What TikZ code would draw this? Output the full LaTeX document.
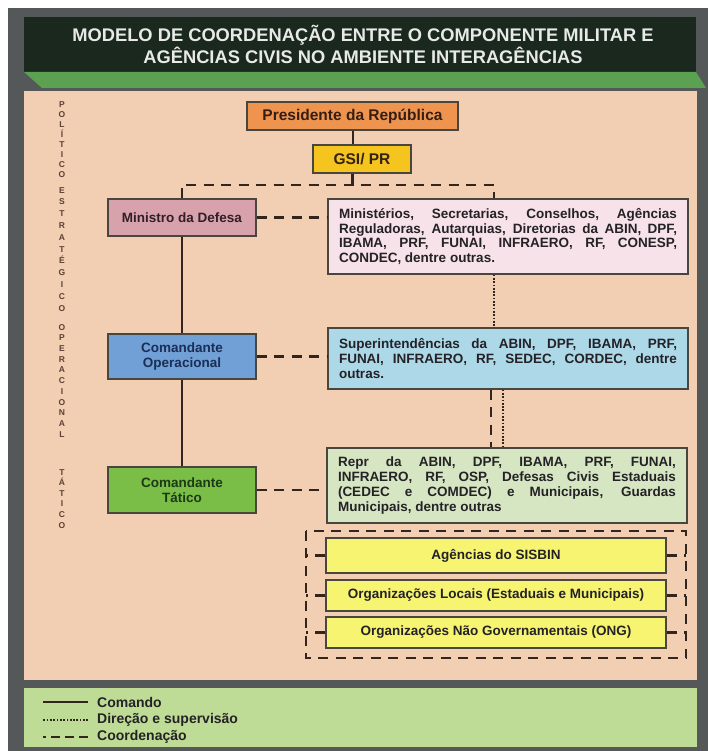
\documentclass[tikz,border=0pt]{standalone}
\usepackage{fontspec}
\setmainfont{Liberation Sans}
\usetikzlibrary{positioning}
\definecolor{framegray}{RGB}{84,88,88}
\definecolor{headdark}{RGB}{26,40,30}
\definecolor{headgreen}{RGB}{92,160,82}
\definecolor{titlegray}{RGB}{232,234,232}
\definecolor{panelpeach}{RGB}{242,206,178}
\definecolor{legendgreen}{RGB}{190,220,150}
\definecolor{presorange}{RGB}{238,148,78}
\definecolor{gsiyellow}{RGB}{245,196,30}
\definecolor{mdpink}{RGB}{216,162,172}
\definecolor{mdlight}{RGB}{246,226,232}
\definecolor{opblue}{RGB}{112,160,214}
\definecolor{oplight}{RGB}{172,216,232}
\definecolor{tatgreen}{RGB}{122,190,72}
\definecolor{tatlight}{RGB}{214,230,194}
\definecolor{sisyellow}{RGB}{246,244,112}
\definecolor{linebrown}{RGB}{52,36,30}
\definecolor{edgegray}{RGB}{72,70,62}
\definecolor{textdark}{RGB}{36,34,38}
\definecolor{vtext}{RGB}{92,64,52}

\tikzset{
  box/.style={draw=edgegray, line width=1.2pt, inner sep=0pt, align=center,
    text=textdark, font=\fontsize{13.5}{15.5}\selectfont\bfseries},
  txtbox/.style={draw=edgegray, line width=1.2pt, inner xsep=11pt, inner ysep=0pt,
    text width=338pt, align=justify, text=textdark,
    font=\fontsize{13.5}{14.7}\selectfont\bfseries},
  cmdline/.style={line width=2pt, linebrown},
  dirline/.style={line width=1.7pt, linebrown, dash pattern=on 1.7pt off 1.6pt},
  coordline/.style={line width=2.2pt, linebrown, dash pattern=on 10pt off 7.5pt},
  legtext/.style={anchor=west, inner sep=0pt, text=textdark,
    font=\fontsize{14}{16}\selectfont\bfseries},
}

\begin{document}
\begin{tikzpicture}[x=1pt, y=-1pt]
  \useasboundingbox (0,0) rectangle (708,751);

  %% Frame and panels
  \fill[framegray] (8,8) rectangle (708,751);
  \fill[headdark] (24,17) rectangle (696,72);
  \fill[headgreen] (24,72) -- (696,72) -- (706,88) -- (42,88) -- cycle;
  \fill[panelpeach] (24,91) rectangle (697,680);
  \fill[legendgreen] (24,688) rectangle (697,747);

  %% Title
  \node[font=\fontsize{18.3}{22}\selectfont\bfseries, text=titlegray, align=center]
    (title) at (363,44) {MODELO DE COORDENAÇÃO ENTRE O COMPONENTE MILITAR E\\
    AGÊNCIAS CIVIS NO AMBIENTE INTERAGÊNCIAS};

  %% Level labels
  \foreach \name/\ytop/\pitch/\word in {
      polit/101/10/{P\\O\\L\\Í\\T\\I\\C\\O},
      estrat/187/11.8/{E\\S\\T\\R\\A\\T\\É\\G\\I\\C\\O},
      operac/324/10.7/{O\\P\\E\\R\\A\\C\\I\\O\\N\\A\\L},
      tatic/469/10.6/{T\\Á\\T\\I\\C\\O}} {
    \node[anchor=north, align=center, inner sep=0pt, text=vtext,
      font=\fontsize{8.5}{\pitch}\selectfont\bfseries] (\name) at (62,\ytop) {\word};
  }

  %% Command chain
  \node[box, fill=presorange, minimum width=211, minimum height=28,
    font=\fontsize{15.5}{17}\selectfont\bfseries, text={rgb,255:red,52;green,30;blue,20}]
    (pres) at (352.5,116) {Presidente da República};
  \node[box, fill=gsiyellow, minimum width=98, minimum height=28,
    font=\fontsize{15.5}{17}\selectfont\bfseries, text={rgb,255:red,52;green,34;blue,20}]
    (gsi) at (362,159) {GSI/ PR};
  \node[box, fill=mdpink, minimum width=148, minimum height=37,
    text={rgb,255:red,48;green,30;blue,40}] (mind) at (182,217.5) {Ministro da Defesa};
  \node[box, fill=opblue, minimum width=148, minimum height=45,
    text={rgb,255:red,26;green,46;blue,86}] (opc) at (182,356.5) {Comandante\\Operacional};
  \node[box, fill=tatgreen, minimum width=148, minimum height=46,
    text={rgb,255:red,28;green,58;blue,20}] (tat) at (182,490) {Comandante\\Tático};

  %% Civil agencies
  \node[txtbox, fill=mdlight, minimum height=75] (mdbox) at (508,236.5)
    {Ministérios, Secretarias, Conselhos, Agências\linebreak
     Reguladoras, Autarquias, Diretorias da ABIN, DPF,\linebreak
     IBAMA, PRF, FUNAI, INFRAERO, RF, CONESP,\linebreak
     CONDEC, dentre outras.};
  \node[txtbox, fill=oplight, minimum height=61] (opbox) at (508,358.5)
    {Superintendências da ABIN, DPF, IBAMA, PRF,\linebreak
     FUNAI, INFRAERO, RF, SEDEC, CORDEC, dentre\linebreak
     outras.};
  \node[txtbox, fill=tatlight, minimum height=75] (tatbox) at (507,485.5)
    {Repr da ABIN, DPF, IBAMA, PRF, FUNAI,\linebreak
     INFRAERO, RF, OSP, Defesas Civis Estaduais\linebreak
     (CEDEC e COMDEC) e Municipais, Guardas\linebreak
     Municipais, dentre outras};

  %% Local organisations
  \node[draw=none, minimum width=380, minimum height=127] (grp) at (496,594.5) {};
  \node[box, fill=sisyellow, minimum width=340, minimum height=35] (sisbin) at (496,555.5)
    {Agências do SISBIN};
  \node[box, fill=sisyellow, minimum width=340, minimum height=31] (orgloc) at (496,595.5)
    {Organizações Locais (Estaduais e Municipais)};
  \node[box, fill=sisyellow, minimum width=340, minimum height=31] (ong) at (496,632.5)
    {Organizações Não Governamentais (ONG)};

  %% Connectors
  \coordinate (split) at (352.5,185);
  \coordinate (rx) at (494,0);
  \coordinate (dx) at (491,0);
  \coordinate (ox) at (503,0);
  \draw[cmdline] (pres.south) -- (pres.south |- gsi.north);
  \draw[coordline] (pres.south |- gsi.south) -- (split);
  \draw[coordline] (mind.north) |- (split) -| (mdbox.north -| rx);
  \draw[coordline] (mind.east) -- (mind.east -| mdbox.west);
  \draw[cmdline] (mind.south) -- (opc.north);
  \draw[cmdline] (opc.south) -- (tat.north);
  \draw[dirline] (mdbox.south -| rx) -- (opbox.north -| rx);
  \draw[coordline] (opc.east) -- (opc.east -| opbox.west);
  \draw[coordline] (opbox.south -| dx) -- (tatbox.north -| dx);
  \draw[dirline] (opbox.south -| ox) -- (tatbox.north -| ox);
  \draw[coordline] (tat.east) -- (tat.east -| tatbox.west);
  \draw[coordline] (grp.north west) rectangle (grp.south east);
  \foreach \b in {sisbin, orgloc, ong} {
    \draw[coordline] (\b.west) -- (\b.west -| grp.west);
    \draw[coordline] (\b.east) -- (\b.east -| grp.east);
  }

  %% Legend
  \node[legtext] (lcmd) at (97,702) {Comando};
  \node[legtext] (ldir) at (97,720) {Direção e supervisão};
  \node[legtext] (lcoord) at (97,737) {Coordenação};
  \draw[cmdline] ([xshift=-9pt]lcmd.west) -- ++(-45,0);
  \draw[dirline, line width=1.3pt] ([xshift=-9pt]ldir.west) -- ++(-45,0);
  \draw[coordline, dash pattern=on 9pt off 5pt] ([xshift=-9pt]lcoord.west) -- ++(-45,0);
\end{tikzpicture}
\end{document}
